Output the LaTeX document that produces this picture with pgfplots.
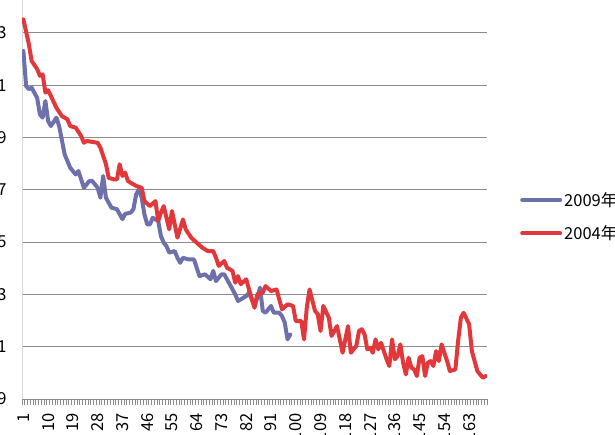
\documentclass[border=0pt]{standalone}
\usepackage{fontspec}
\setmainfont{Noto Sans CJK SC}
\usepackage{pgfplots}
\pgfplotsset{compat=1.18}
\usepackage{pgfplotstable}
\definecolor{s09}{HTML}{6D70AA}
\definecolor{s04}{HTML}{E2383C}
\definecolor{gridc}{HTML}{8C8C8C}

\pgfplotstableread{
x y
1 22.31
2 20.97
3 20.85
4 20.91
6 20.52
7 19.89
8 19.76
9 20.40
10 19.63
11 19.44
13 19.76
14 19.44
16 18.36
18 17.85
20 17.59
21 17.72
22 17.40
23 17.08
25 17.34
26 17.34
28 17.08
29 16.70
30 17.53
31 16.70
33 16.32
35 16.26
37 15.88
38 16.08
40 16.13
41 16.26
42 16.83
43 17.02
44 16.70
45 16.06
46 15.68
47 15.68
48 15.93
50 15.81
51 15.23
52 14.98
53 14.85
54 14.60
56 14.66
57 14.40
58 14.21
59 14.40
61 14.34
63 14.34
64 14.02
65 13.70
67 13.77
69 13.58
70 13.90
71 13.51
73 13.77
74 13.77
76 13.39
78 13.00
79 12.75
80 12.81
82 12.94
83 13.07
85 12.56
86 12.87
87 13.26
88 12.37
89 12.30
91 12.56
92 12.30
94 12.30
95 12.17
96 11.92
97 11.28
98 11.47
}\bluedata

\pgfplotstableread{
x y
1 23.52
3 22.57
4 21.93
6 21.62
7 21.36
8 21.42
9 20.72
10 20.81
11 20.59
13 20.14
15 19.82
17 19.70
18 19.44
20 19.38
22 19.06
23 18.80
24 18.87
28 18.80
29 18.61
31 17.99
32 17.46
34 17.40
35 17.40
36 17.98
37 17.53
38 17.66
39 17.34
40 17.27
42 17.15
44 17.08
45 16.57
47 16.38
49 16.57
50 15.81
51 16.13
52 16.38
54 15.49
55 16.19
57 15.17
59 15.87
60 15.49
62 15.17
64 14.98
66 14.79
68 14.66
70 14.66
71 14.40
72 14.09
74 14.28
75 14.02
77 13.90
78 13.45
79 13.70
80 13.39
82 13.58
83 13.19
85 12.49
86 13.00
88 13.07
89 13.32
91 13.13
93 13.19
95 12.43
97 12.62
99 12.56
100 11.98
102 11.98
103 11.28
104 12.49
105 13.19
107 12.37
108 12.24
109 11.60
110 12.56
112 12.11
113 11.41
115 11.79
117 10.77
119 11.79
120 10.77
122 11.03
123 11.60
124 11.67
125 11.47
126 10.90
127 10.96
128 10.77
129 11.28
130 10.90
131 11.15
132 10.83
133 10.52
134 10.26
135 11.28
136 10.52
137 10.64
138 11.09
139 10.39
140 9.94
141 10.58
142 10.20
143 10.13
144 9.88
145 10.58
146 10.64
147 9.88
148 10.39
149 10.45
150 10.26
151 10.83
152 10.45
153 11.09
155 10.45
156 10.07
158 10.13
159 11.22
160 12.11
161 12.30
163 11.86
164 10.83
166 10.07
168 9.81
169 9.88
}\reddata

\begin{document}
\begin{tikzpicture}
\useasboundingbox (0,0) rectangle (615pt,434pt);
\clip (0,0) rectangle (615pt,434pt);
\begin{axis}[
  at={(22pt,35pt)}, anchor=south west,
  scale only axis, width=465pt, height=418.3pt,
  xmin=0.5, xmax=169.5, ymin=9, ymax=25,
  axis x line=bottom, axis y line=left, axis line style={-},
  x axis line style={draw=gridc, line width=1pt},
  y axis line style={draw=black!15, line width=1pt},
  ytick={9,11,...,23},
  ymajorgrids, grid style={draw=gridc, line width=1pt},
  xtick={1,10,...,163},
  minor xtick={0.5,1.5,...,169.5},
  major tick length=0pt, minor tick length=6pt, tick align=outside,
  minor tick style={draw=gridc, line width=0.6pt},
  ytick style={draw=none},
  /pgf/number format/assume math mode=true,
  /pgf/number format/1000 sep={},
  ticklabel style={font=\fontsize{16.5}{19}\selectfont},
  yticklabel shift=12pt,
  xticklabel style={rotate=90, anchor=east},
  xticklabel shift=11pt,
  legend style={draw=none, fill=none, at={(1.071,0.436)}, anchor=west,
    font=\fontsize{16.5}{19}\selectfont, row sep=14pt, inner sep=0pt,
    cells={anchor=west}},
  legend image code/.code={\draw[#1] (0pt,0pt) -- (38pt,0pt);},
]
\addplot[s09, line width=4pt, line join=round, line cap=round, no marks] table[x=x,y=y]{\bluedata};
\addplot[s04, line width=4pt, line join=round, line cap=round, no marks] table[x=x,y=y]{\reddata};
\legend{2009年,2004年}
\end{axis}
\end{tikzpicture}
\end{document}
